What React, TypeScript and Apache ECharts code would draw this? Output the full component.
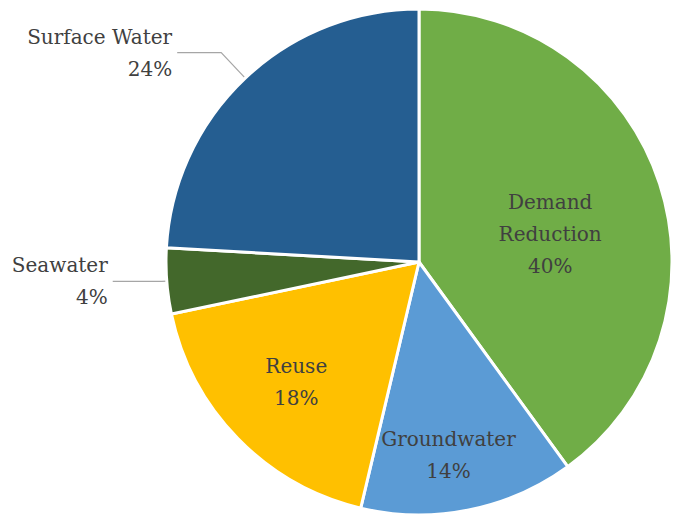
import React, { useEffect, useRef } from "react";
import * as echarts from "echarts";

const categories = ["Demand Reduction", "Groundwater", "Reuse", "Seawater", "Surface Water"];
const values = [40, 13.7, 18, 4.2, 24.1];
const colors = ["#70AD47", "#5B9BD5", "#FFC000", "#43682B", "#255E91"];

const FONT = "DejaVu Serif";

export default function App() {
  const ref = useRef<HTMLDivElement>(null);
  useEffect(() => {
    if (!ref.current) return;
    const chart = echarts.init(ref.current, null, { renderer: "svg" });
    const total = values.reduce((a, b) => a + b, 0);
    const labelCfg: any[] = [
      { position: "inside", offset: [8, 12] },
      { position: "inside", offset: [4, 66] },
      { position: "inside", offset: [-30, 30] },
      { position: "outside", padding: [12, 0, 0, 0] },
      { position: "outside", padding: [12, 0, 0, 0] },
    ];
    const lineCfg: any[] = [
      { show: false },
      { show: false },
      { show: false },
      { show: true, length: 5, length2: 49 },
      { show: true, length: 35, length2: 44 },
    ];
    const data = categories.map((name, i) => ({
      name,
      value: values[i],
      itemStyle: { color: colors[i] },
      label: labelCfg[i],
      labelLine: lineCfg[i],
    }));
    chart.setOption({
      animation: false,
      backgroundColor: "#ffffff",
      textStyle: { fontFamily: FONT },
      series: [
        {
          type: "pie",
          center: [419, 262],
          radius: 253,
          startAngle: 90,
          clockwise: true,
          avoidLabelOverlap: false,
          itemStyle: { borderColor: "#ffffff", borderWidth: 3 },
          label: {
            show: true,
            color: "#404040",
            fontFamily: FONT,
            fontSize: 20,
            lineHeight: 32,
            align: "center",
            formatter: (p: any) => {
              const pct = Math.round((p.value / total) * 100);
              const nm = p.name === "Demand Reduction" ? "Demand\nReduction" : p.name;
              return nm + "\n" + pct + "%";
            },
          },
          labelLine: {
            lineStyle: { color: "#A6A6A6", width: 1.2 },
            smooth: false,
          },
          emphasis: { disabled: true },
          data,
        },
      ],
    });
    return () => chart.dispose();
  }, []);
  return (
    <div
      ref={ref}
      style={{ position: "absolute", left: 0, top: 0, width: 678, height: 517 }}
    />
  );
}
